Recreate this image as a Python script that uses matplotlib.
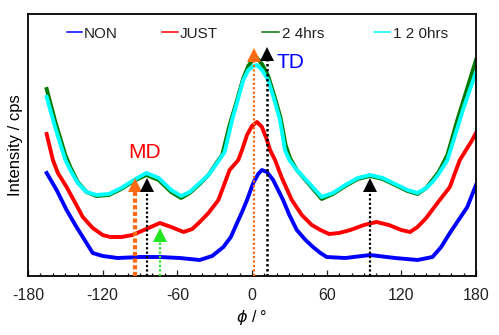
import matplotlib
matplotlib.use("Agg")
import matplotlib.pyplot as plt
from matplotlib.lines import Line2D
from matplotlib.transforms import offset_copy

plt.rcParams['font.family'] = ['Liberation Sans', 'DejaVu Sans']
plt.rcParams['axes.unicode_minus'] = False

# ---- data (phi in degrees, intensity arbitrary cps) ----
non_phi = [-165, -157, -149, -142, -136, -128, -120, -108, -90, -74, -58, -42, -32, -23, -17, -12,
           -8, -4, 1, 5, 8, 12, 17, 21, 25, 30, 36, 43, 49, 55, 60, 75, 95, 115, 133, 145, 152,
           159, 166, 173, 180]
non_val = [103, 86, 66, 51, 39, 23, 20, 18, 19, 19, 18, 16, 20, 29, 39, 53,
           64, 76, 93, 102, 106, 104, 96, 86, 76, 61, 46, 36, 29, 23, 19, 18, 21, 18, 16, 19, 29,
           43, 56, 69, 91]

just_phi = [-165, -160, -156, -149, -142, -136, -128, -120, -114, -105, -96, -85, -74, -65, -55,
            -48, -42, -35, -27, -18, -11, -8, -4, 0, 4, 8, 12, 14.5, 18.5, 24, 32, 40, 48, 55,
            62, 70, 79, 90, 100, 110, 120, 127, 133, 140, 149, 159, 164, 167, 172, 176, 180]
just_val = [142, 116, 103, 89, 73, 59, 48, 41, 39, 39, 41, 47, 53, 49, 44,
            47, 54, 63, 76, 106, 116, 126, 141, 150, 154, 149, 136, 126, 116, 98, 76, 61, 51, 46,
            42, 43, 46, 51, 54, 51, 46, 44, 49, 58, 73, 89, 106, 116, 126, 134, 143]

h24_phi = [-165, -158, -150, -146, -140, -133, -125, -115, -105, -95, -85, -75, -65, -57, -50,
           -42, -35, -28, -24, -18, -12, -7, -3, 1, 4, 8, 13, 18, 23, 27, 30.5, 36, 45, 56, 65,
           75, 85, 95, 105, 115, 125, 133, 140, 145, 150, 157, 165, 170, 175, 180]
h24_val = [187, 154, 121, 109, 94, 84, 80, 81, 87, 95, 101, 96, 84, 78, 83,
           92, 101, 114, 121, 151, 176, 198, 210, 217, 218, 212, 200, 180, 158, 131, 118, 106, 93, 77, 82,
           90, 97, 100, 97, 91, 85, 82, 88, 96, 104, 121, 156, 176, 196, 216]

h120_phi = [-165, -158, -150, -146, -140, -133, -125, -115, -105, -95, -85, -75, -65, -57, -50,
            -42, -35, -28, -22, -16, -11, -7, -3, 1, 4, 8, 13, 18, 22.5, 26.5, 30, 36, 45, 56, 65,
            75, 85, 95, 105, 115, 125, 133, 140, 145, 150, 157, 165, 170, 175, 180]
h120_val = [179, 148, 116, 106, 93, 84, 81, 82, 88, 96, 103, 98, 86, 80, 84,
            93, 101, 113, 124, 156, 178, 196, 206, 210, 211, 206, 196, 176, 156, 126, 116, 106, 94, 79, 83,
            91, 98, 101, 98, 92, 86, 83, 88, 94, 102, 116, 148, 168, 186, 204]

series_names = ["NON", "JUST", "2 4hrs", "1 2 0hrs"]
series_colors = ["#0000ff", "#ff0000", "#007a00", "#00ffff"]

# arrows: position, tip height
arrow_phi = [-94, -84.5, -74, 2, 12, 95]
arrow_tip = [98, 98, 48, 228, 229, 98]
arrow_color = ["#ff6a13", "#000000", "#22e622", "#ff6a13", "#000000", "#000000"]
arrow_lw = [3.0, 1.6, 1.6, 1.6, 1.8, 1.6]

W, H = 499, 335
fig = plt.figure(figsize=(W / 100, H / 100), dpi=100)
ax = fig.add_axes([28 / W, 1 - 276 / H, 448 / W, 262 / H])

xs = [non_phi, just_phi, h24_phi, h120_phi]
ys = [non_val, just_val, h24_val, h120_val]
for x, y, c in zip(xs, ys, series_colors):
    ax.plot(x, y, color=c, lw=2.8, solid_joinstyle='round', zorder=2)

tri_tr = offset_copy(ax.transData, fig=fig, y=-4.8, units='points')
for p, t, c, lw in zip(arrow_phi, arrow_tip, arrow_color, arrow_lw):
    ls = (0, (1, 0.6)) if lw > 2 else (0, (1, 1))
    ax.plot([p, p], [0, t - 6], color=c, lw=lw, linestyle=ls, zorder=3)
    ax.plot([p], [t], marker='^', markersize=9.5, color=c, markeredgewidth=0,
            transform=tri_tr, zorder=4)

ax.text(-86, 124, "MD", color="#ff0000", fontsize=15, ha='center', va='center')
ax.text(31, 213, "TD", color="#0000ff", fontsize=15, ha='center', va='center')

ax.set_xlim(-180, 180)
ax.set_ylim(0, 262)
ax.set_xticks(range(-180, 181, 60))
ax.set_xticks(range(-180, 181, 10), minor=True)
ax.set_yticks([])
ax.tick_params(axis='x', which='major', direction='in', length=4.5, width=0.9, pad=9,
               labelsize=11.5, colors='#222222')
ax.tick_params(axis='x', which='minor', direction='in', length=2.5, width=0.9)
for s in ax.spines.values():
    s.set_linewidth(1.3)

ax.set_xlabel(r"$\phi$ / °", fontsize=11.5, labelpad=3)
ax.set_ylabel("Intensity / cps", fontsize=12)
ax.yaxis.set_label_coords(-0.012, 0.5)

# legend drawn manually (pixel layout of the reference)
leg_line_x = [(67, 82), (162, 178), (262, 279), (374, 390)]
leg_text_x = [84, 180, 282, 393]
leg_y = 1 - 32 / H
for (x0, x1), tx, name, c in zip(leg_line_x, leg_text_x, series_names, series_colors):
    fig.add_artist(Line2D([x0 / W, x1 / W], [leg_y, leg_y], color=c, lw=1.1,
                          transform=fig.transFigure))
    fig.text(tx / W, leg_y, name, fontsize=11, ha='left', va='center_baseline', color='#222222')

fig.savefig("out.png", dpi=100)
